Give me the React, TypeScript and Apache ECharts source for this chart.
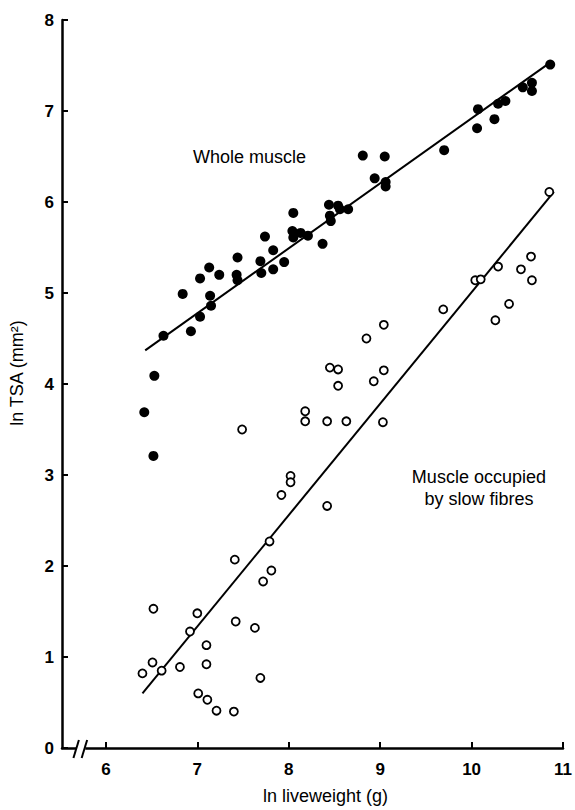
import React, { useEffect, useRef } from "react";
import * as echarts from "echarts";

const xTicks = [6, 7, 8, 9, 10, 11];
const yTicks = [0, 1, 2, 3, 4, 5, 6, 7, 8];

const wholeMuscle: number[][] = [
  [6.42, 3.69], [6.52, 3.21], [6.53, 4.09], [6.63, 4.53], [6.84, 4.99], [6.93, 4.58],
  [7.03, 5.16], [7.03, 4.74], [7.13, 5.28], [7.14, 4.97], [7.15, 4.86], [7.24, 5.2],
  [7.44, 5.39], [7.43, 5.2], [7.44, 5.14], [7.69, 5.35], [7.7, 5.22], [7.74, 5.62],
  [7.83, 5.47], [7.83, 5.26], [7.95, 5.34], [8.05, 5.88], [8.04, 5.68], [8.05, 5.61],
  [8.13, 5.66], [8.21, 5.63], [8.37, 5.54], [8.44, 5.97], [8.45, 5.85], [8.46, 5.79],
  [8.54, 5.96], [8.56, 5.92], [8.65, 5.92], [8.81, 6.51], [8.94, 6.26], [9.05, 6.5],
  [9.06, 6.22], [9.06, 6.17], [9.7, 6.57], [10.06, 6.81], [10.07, 7.02], [10.25, 6.91],
  [10.29, 7.08], [10.37, 7.11], [10.56, 7.26], [10.66, 7.31], [10.66, 7.22], [10.86, 7.51],
];

const slowFibres: number[][] = [
  [6.4, 0.82], [6.51, 0.94], [6.52, 1.53], [6.61, 0.85], [6.81, 0.89], [6.92, 1.28],
  [7.0, 1.48], [7.01, 0.6], [7.1, 1.13], [7.1, 0.92], [7.11, 0.53], [7.21, 0.41],
  [7.4, 0.4], [7.41, 2.07], [7.42, 1.39], [7.49, 3.5], [7.63, 1.32], [7.69, 0.77],
  [7.72, 1.83], [7.79, 2.27], [7.81, 1.95], [7.92, 2.78], [8.02, 2.99], [8.02, 2.92],
  [8.18, 3.7], [8.18, 3.59], [8.42, 3.59], [8.42, 2.66], [8.45, 4.18], [8.54, 4.16],
  [8.54, 3.98], [8.63, 3.59], [8.85, 4.5], [8.93, 4.03], [9.03, 3.58], [9.04, 4.15],
  [9.04, 4.65], [9.69, 4.82], [10.04, 5.14], [10.1, 5.15], [10.26, 4.7], [10.29, 5.29],
  [10.41, 4.88], [10.54, 5.26], [10.65, 5.4], [10.66, 5.14], [10.85, 6.11],
];

const wholeFit: number[][] = [[6.43, 4.37], [10.87, 7.54]];
const slowFit: number[][] = [[6.4, 0.6], [10.9, 6.11]];

const annotations = [
  { text: "Whole muscle", at: [7.57, 6.5] },
  { text: "Muscle occupied", at: [10.08, 2.98] },
  { text: "by slow fibres", at: [10.08, 2.74] },
];

const FONT = "'Liberation Sans', Arial, Helvetica, sans-serif";

export default function App() {
  const ref = useRef<HTMLDivElement>(null);
  useEffect(() => {
    const chart = echarts.init(ref.current!, null, { renderer: "svg" });
    chart.setOption({
      animation: false,
      backgroundColor: "#ffffff",
      grid: { left: 60, right: 9.5, top: 20, bottom: 56.7 },
      xAxis: {
        type: "value",
        min: 5.52,
        max: 11,
        axisLine: { show: true, onZero: false, lineStyle: { color: "#000", width: 2.5 } },
        axisTick: { show: true, inside: true, length: 6, customValues: xTicks, lineStyle: { color: "#000", width: 2 } },
        axisLabel: { customValues: xTicks, color: "#000", fontSize: 17, fontWeight: "bold", fontFamily: FONT, margin: 13 },
        splitLine: { show: false },
        name: "ln liveweight (g)",
        nameLocation: "middle",
        nameGap: 39,
        nameTextStyle: { color: "#000", fontSize: 18, fontFamily: FONT, padding: [0, 0, 0, 26] },
      },
      yAxis: {
        type: "value",
        min: 0,
        max: 8,
        interval: 1,
        axisLine: { show: true, onZero: false, lineStyle: { color: "#000", width: 2.5 } },
        axisTick: { show: true, inside: true, length: 6, customValues: yTicks, lineStyle: { color: "#000", width: 2 } },
        axisLabel: { color: "#000", fontSize: 17, fontWeight: "bold", fontFamily: FONT, margin: 8 },
        splitLine: { show: false },
        name: "ln TSA (mm²)",
        nameLocation: "middle",
        nameRotate: 90,
        nameGap: 36,
        nameTextStyle: { color: "#000", fontSize: 18, fontFamily: FONT, padding: [0, 0, 0, 22] },
      },
      series: [
        {
          type: "line",
          data: wholeFit,
          symbol: "none",
          lineStyle: { color: "#000", width: 2 },
          z: 2,
        },
        {
          type: "line",
          data: slowFit,
          symbol: "none",
          lineStyle: { color: "#000", width: 2 },
          z: 2,
        },
        {
          type: "scatter",
          data: wholeMuscle,
          symbol: "circle",
          symbolSize: 10,
          itemStyle: { color: "#000", opacity: 1 },
          z: 3,
        },
        {
          type: "scatter",
          data: slowFibres,
          symbol: "circle",
          symbolSize: 8,
          itemStyle: { color: "#fff", borderColor: "#000", borderWidth: 1.8, opacity: 1 },
          z: 3,
        },
      ],
    });

    const px = (x: number, y: number) =>
      chart.convertToPixel({ xAxisIndex: 0, yAxisIndex: 0 }, [x, y]) as number[];
    const y0 = px(6, 0)[1];
    const gapA = px(5.675, 0)[0];
    const gapB = px(5.775, 0)[0];
    const s1b = px(5.645, 0)[0];
    const s1t = px(5.705, 0)[0];
    const s2b = px(5.735, 0)[0];
    const s2t = px(5.795, 0)[0];

    chart.setOption({
      graphic: [
        {
          type: "rect",
          shape: { x: gapA, y: y0 - 4, width: gapB - gapA, height: 8 },
          style: { fill: "#fff" },
          z: 100,
        },
        {
          type: "line",
          shape: { x1: s1b, y1: y0 + 10, x2: s1t, y2: y0 - 8 },
          style: { stroke: "#000", lineWidth: 2 },
          z: 101,
        },
        {
          type: "line",
          shape: { x1: s2b, y1: y0 + 10, x2: s2t, y2: y0 - 8 },
          style: { stroke: "#000", lineWidth: 2 },
          z: 101,
        },
        ...annotations.map((a) => {
          const p = px(a.at[0], a.at[1]);
          return {
            type: "text",
            x: p[0],
            y: p[1],
            z: 101,
            style: {
              text: a.text,
              fill: "#000",
              fontSize: 18,
              fontFamily: FONT,
              align: "center",
              verticalAlign: "middle",
            },
          };
        }),
      ],
    });

    return () => chart.dispose();
  }, []);

  return (
    <div
      ref={ref}
      style={{ position: "fixed", left: 0, top: 0, width: 575, height: 810, background: "#fff" }}
    />
  );
}
